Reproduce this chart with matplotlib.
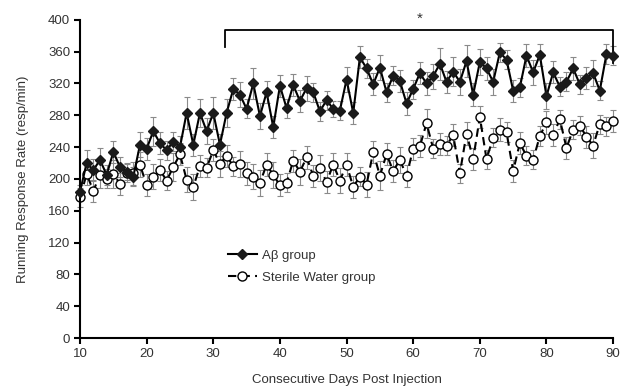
import matplotlib.pyplot as plt

plt.rcParams['font.family'] = ['Liberation Sans', 'DejaVu Sans']

# Tage nach Injektion
days = list(range(10, 91))

# Aβ-Gruppe (Mittelwerte, aus dem Bild geschätzt)
abeta = [184, 220, 211, 224, 205, 234, 215, 209, 203, 243,
         238, 260, 245, 236, 247, 240, 283, 243, 283, 260,
         283, 243, 283, 313, 306, 288, 320, 279, 309, 265,
         317, 289, 318, 298, 314, 309, 285, 299, 288, 286,
         325, 283, 353, 339, 319, 340, 309, 330, 323, 295,
         313, 333, 320, 329, 345, 322, 335, 322, 348, 306,
         347, 339, 322, 359, 350, 311, 315, 355, 334, 356,
         304, 334, 316, 322, 339, 319, 327, 333, 311, 357,
         355]
abeta_err = [8, 16, 14, 15, 12, 14, 12, 10, 12, 16,
             14, 18, 14, 12, 12, 14, 20, 14, 18, 16,
             20, 14, 18, 14, 16, 12, 20, 16, 14, 14,
             14, 12, 14, 14, 16, 12, 12, 12, 10, 12,
             16, 14, 14, 12, 14, 16, 12, 12, 14, 14,
             12, 14, 14, 16, 20, 14, 18, 16, 20, 14,
             16, 14, 16, 12, 12, 14, 12, 14, 16, 14,
             16, 14, 12, 12, 14, 12, 14, 16, 12, 12,
             12]

# Sterile-Water-Gruppe
water = [177, 206, 185, 205, 200, 206, 194, 208, 207, 218,
         192, 203, 211, 198, 215, 231, 199, 190, 216, 214,
         236, 219, 229, 216, 219, 207, 203, 195, 218, 205,
         192, 195, 223, 209, 227, 204, 214, 196, 218, 198,
         218, 190, 203, 193, 234, 204, 231, 210, 224, 204,
         238, 241, 270, 238, 244, 242, 255, 207, 257, 225,
         278, 225, 252, 262, 259, 210, 245, 229, 224, 254,
         271, 255, 275, 239, 262, 267, 253, 242, 269, 266,
         273]
water_err = [12, 14, 14, 16, 12, 18, 14, 12, 14, 16,
             14, 16, 14, 12, 18, 14, 16, 16, 14, 12,
             14, 16, 14, 12, 16, 14, 16, 16, 14, 16,
             14, 12, 14, 16, 14, 14, 16, 14, 14, 16,
             14, 14, 12, 16, 14, 18, 14, 14, 16, 14,
             14, 14, 18, 12, 14, 12, 14, 12, 14, 14,
             14, 12, 12, 14, 12, 14, 14, 12, 12, 12,
             14, 14, 12, 14, 12, 12, 14, 16, 12, 12,
             14]

fig = plt.figure(figsize=(6.25, 3.89), dpi=100)
ax = fig.add_axes([0.128, 0.131, 0.853, 0.818])

ax.errorbar(days, abeta, yerr=abeta_err, fmt='none', ecolor='#8a8a8a',
            elinewidth=0.8, capsize=2, capthick=0.8, zorder=1, clip_on=False)
ax.errorbar(days, water, yerr=water_err, fmt='none', ecolor='#8a8a8a',
            elinewidth=0.8, capsize=2, capthick=0.8, zorder=1, clip_on=False)

ax.plot(days, water, linestyle='--', color='black', linewidth=1.5,
        marker='o', markersize=6.5, markerfacecolor='white',
        markeredgecolor='black', markeredgewidth=1.0,
        dashes=(4, 2.5), label='Sterile Water group', zorder=2, clip_on=False)
ax.plot(days, abeta, linestyle='-', color='black', linewidth=1.5,
        marker='D', markersize=5.5, markerfacecolor='#1a1a1a',
        markeredgecolor='#1a1a1a', label='Aβ group', zorder=3, clip_on=False)

# Signifikanzklammer
ax.plot([31.8, 31.8, 90, 90], [366, 387, 387, 346], color='black',
        linewidth=1.3, clip_on=False)
ax.text(61, 393, '*', ha='center', va='bottom', fontsize=11, color='#333333')

ax.set_xlim(10, 90)
ax.set_ylim(0, 400)
ax.set_xticks(range(10, 91, 10))
ax.set_yticks(range(0, 401, 40))

for s in ['top', 'right']:
    ax.spines[s].set_visible(False)
for s in ['left', 'bottom']:
    ax.spines[s].set_linewidth(1.5)
ax.tick_params(direction='out', length=4, width=1.5, labelsize=9.5,
               labelcolor='#333333', pad=3)

ax.set_xlabel('Consecutive Days Post Injection', fontsize=9.5,
              color='#333333', labelpad=10)
ax.set_ylabel('Running Response Rate (resp/min)', fontsize=9.5,
              color='#333333', labelpad=14)

handles, labels = ax.get_legend_handles_labels()
ax.legend(handles[::-1], labels[::-1], loc='upper left',
          bbox_to_anchor=(0.255, 0.315), frameon=False, fontsize=9.5,
          handlelength=2.2, labelspacing=0.75, handletextpad=0.4,
          labelcolor='#333333')

fig.savefig('out.png', dpi=100)
